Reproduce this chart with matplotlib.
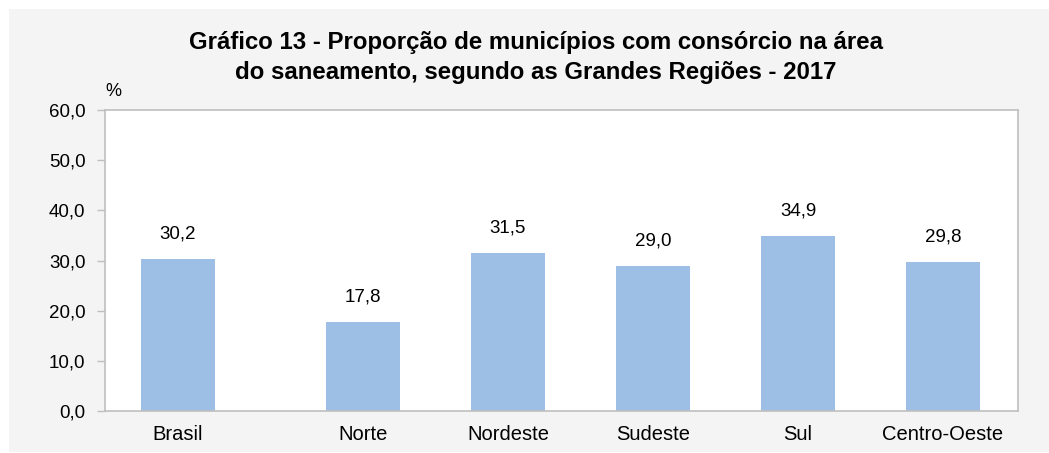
import numpy as np
import matplotlib
matplotlib.use('Agg')
import matplotlib.pyplot as plt
from matplotlib.patches import Rectangle

regioes = ['Brasil', 'Norte', 'Nordeste', 'Sudeste', 'Sul', 'Centro-Oeste']
proporcao = [30.2, 17.8, 31.5, 29.0, 34.9, 29.8]
y_ticks = [0, 10, 20, 30, 40, 50, 60]

plt.rcParams['font.family'] = ['Liberation Sans', 'DejaVu Sans']

fig = plt.figure(figsize=(10.49, 4.53), dpi=100)
fig.patch.set_facecolor('white')
# fundo cinza do quadro
fig.patches.append(Rectangle((9 / 1049, 1 / 453), 1 - 9 / 1049, (453 - 10) / 453,
                             transform=fig.transFigure, facecolor='#f4f4f4',
                             edgecolor='none', zorder=-5))

ax = fig.add_axes([105 / 1049, 42 / 453, (1017.6 - 105) / 1049, 301 / 453])
ax.set_facecolor('white')

# Brasil separado das regiões
x = np.array([0] + [1.276 + i for i in range(len(regioes) - 1)])
ax.bar(x, proporcao, width=0.51, color='#9dbfe5', zorder=2)

for xi, v in zip(x, proporcao):
    ax.annotate(f'{v:.1f}'.replace('.', ','), (xi, v), xytext=(0, 18),
                textcoords='offset points', ha='center', va='center', fontsize=13.5)

ax.set_xlim(-0.503, x[-1] + 0.514)
ax.set_ylim(0, 60)
ax.set_yticks(y_ticks)
ax.set_yticklabels([f'{t:.1f}'.replace('.', ',') for t in y_ticks], fontsize=13.5)
ax.set_xticks(x)
ax.set_xticklabels(regioes, fontsize=14.5)
ax.tick_params(axis='x', length=0, pad=10)
ax.tick_params(axis='y', length=6, width=1, color='#bfbfbf', pad=8)
for s in ax.spines.values():
    s.set_color('#bfbfbf')
    s.set_linewidth(1.2)

fig.text(113 / 1049, (453 - 91) / 453, '%', ha='center', va='center', fontsize=13)

fig.text(536 / 1049, (453 - 57.5) / 453,
         'Gráfico 13 - Proporção de municípios com consórcio na área\n'
         'do saneamento, segundo as Grandes Regiões - 2017',
         ha='center', va='center', fontsize=17.3, fontweight='bold', linespacing=1.35)

fig.savefig('out.png', dpi=100)
